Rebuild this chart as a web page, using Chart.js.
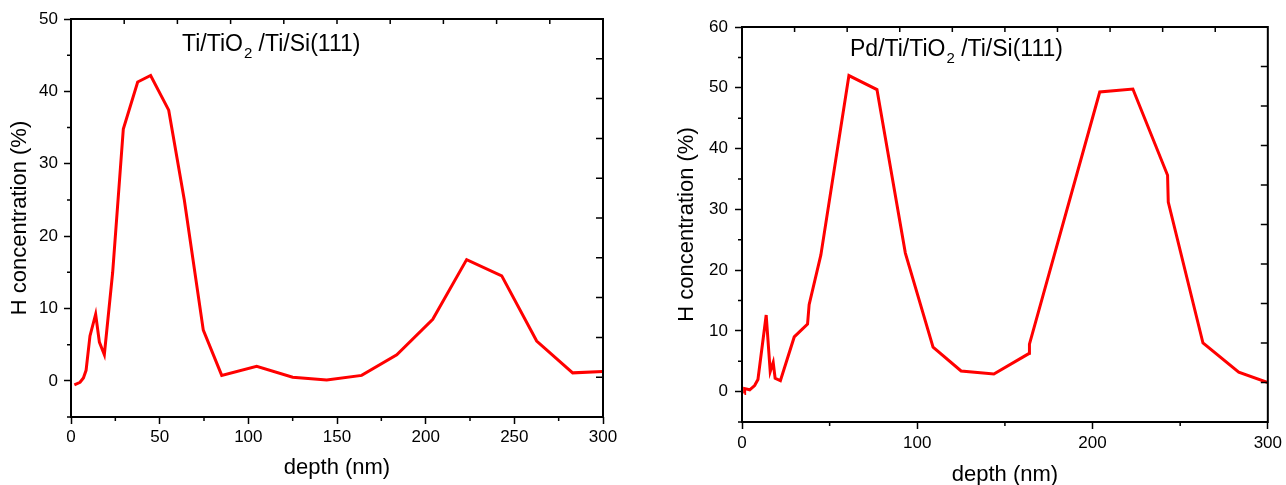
<!DOCTYPE html>
<html>
<head>
<meta charset="utf-8">
<script src="https://cdn.jsdelivr.net/npm/chart.js@4.4.1/dist/chart.umd.min.js"></script>
<style>
  body { margin: 0; background: #fff; }
  #wrap { position: relative; width: 1286px; height: 485px; }
  canvas { position: absolute; top: 0; }
  #chartA { left: 0; }
  #chartB { left: 640px; }
</style>
</head>
<body>
<div id="wrap">
  <canvas id="chartA" width="640" height="485"></canvas>
  <canvas id="chartB" width="646" height="485"></canvas>
</div>
<script>
// Perfil de H - muestra Ti/TiO2/Ti/Si(111)
const depthA = [1.9, 5.1, 7, 8.5, 10.7, 13.9, 16, 18.8, 23.5, 29.5, 37.6, 44.9, 55.1, 63.9, 74.6, 85, 104.7, 125, 144.2, 163.9, 183.7, 204, 223.1, 242.9, 262.6, 282.9, 300];
const hA     = [-0.55, -0.2, 0.4, 1.45, 6.2, 9.2, 5.35, 3.6, 15, 34.8, 41.3, 42.2, 37.4, 25.0, 7.0, 0.75, 2.0, 0.5, 0.13, 0.75, 3.6, 8.5, 16.75, 14.5, 5.5, 1.1, 1.3];

// Perfil de H - muestra Pd/Ti/TiO2/Ti/Si(111)
const depthB = [1.4, 1.5, 4.4, 7.2, 9.1, 13.8, 16.1, 17.8, 18.9, 21.9, 29.8, 37.4, 38.3, 45, 61, 77, 93.2, 109, 125, 143.7, 163.9, 164, 204.1, 223, 242.8, 243.2, 263, 283.4, 300];
const hB     = [-0.3, 0.5, 0.3, 1.0, 2.0, 12.6, 3.3, 4.8, 2.2, 1.8, 9.0, 11.1, 14.3, 22.5, 52.0, 49.7, 22.8, 7.3, 3.4, 2.9, 6.3, 7.8, 49.3, 49.8, 35.6, 31.2, 8.0, 3.2, 1.5];

// ticks
const xTicksA = [0, 50, 100, 150, 200, 250, 300];
const xMinorA = [25, 75, 125, 175, 225, 275];
const yTicksA = [0, 10, 20, 30, 40, 50];
const yMinorA = [-5, 5, 15, 25, 35, 45];
const xTopA   = [30, 60, 90, 120, 150, 180, 210, 240, 270];
const yRightA = [0.5, 6, 11.5, 17, 22.5, 28, 33.5, 39, 44.5];

const xTicksB = [0, 100, 200, 300];
const xMinorB = [50, 150, 250];
const yTicksB = [0, 10, 20, 30, 40, 50, 60];
const yMinorB = [-5, 5, 15, 25, 35, 45, 55];
const xTopB   = [30, 60, 90, 120, 150, 180, 210, 240, 270];
const yRightB = [1.5, 8, 14.5, 21, 27.5, 34, 40.5, 47, 53.5];

const titleA = ['Ti/TiO', '2', ' /Ti/Si(111)'];
const titleB = ['Pd/Ti/TiO', '2', ' /Ti/Si(111)'];

const FONT = "'Liberation Sans', Arial, sans-serif";
Chart.defaults.font.family = FONT;
Chart.defaults.color = '#000';

// marco, ticks menores/espejo y rotulo con subindice
const frameTicks = {
  id: 'frameTicks',
  afterDraw(chart, args, o) {
    const {ctx, chartArea: a, scales: {x, y}} = chart;
    ctx.save();
    ctx.strokeStyle = '#000';
    ctx.lineWidth = 2;
    ctx.strokeRect(a.left, a.top, a.right - a.left, a.bottom - a.top);
    ctx.lineWidth = 1.5;
    ctx.beginPath();
    o.xMinor.forEach(v => { const p = x.getPixelForValue(v); ctx.moveTo(p, a.bottom); ctx.lineTo(p, a.bottom + 4); });
    o.yMinor.forEach(v => { const p = y.getPixelForValue(v); ctx.moveTo(a.left, p); ctx.lineTo(a.left - 4, p); });
    o.xTop.forEach(v => { const p = x.getPixelForValue(v); ctx.moveTo(p, a.top); ctx.lineTo(p, a.top + 5); });
    o.yRight.forEach(v => { const p = y.getPixelForValue(v); ctx.moveTo(a.right, p); ctx.lineTo(a.right - 7, p); });
    ctx.stroke();

    // rotulo
    let tx = a.left + o.titleAt[0];
    const ty = a.top + o.titleAt[1];
    ctx.fillStyle = '#000';
    ctx.textBaseline = 'alphabetic';
    ctx.textAlign = 'left';
    ctx.font = '23px ' + FONT;
    ctx.fillText(o.title[0], tx, ty);
    tx += ctx.measureText(o.title[0]).width;
    ctx.font = '15px ' + FONT;
    ctx.fillText(o.title[1], tx + 1, ty + 7);
    tx += ctx.measureText(o.title[1]).width + 1;
    ctx.font = '23px ' + FONT;
    ctx.fillText(o.title[2], tx, ty);
    ctx.restore();
  }
};

function makeChart(id, depth, h, cfg) {
  const ctx = document.getElementById(id).getContext('2d');
  return new Chart(ctx, {
    type: 'line',
    data: {
      datasets: [{
        data: depth.map((d, i) => ({x: d, y: h[i]})),
        borderColor: '#ff0000',
        borderWidth: 3,
        pointRadius: 0,
        tension: 0,
        fill: false
      }]
    },
    options: {
      responsive: false,
      animation: false,
      layout: { padding: { top: cfg.padTop, right: cfg.padRight, left: 0, bottom: 0 } },
      plugins: {
        legend: { display: false },
        tooltip: { enabled: false },
        frameTicks: {
          xMinor: cfg.xMinor, yMinor: cfg.yMinor, xTop: cfg.xTop, yRight: cfg.yRight,
          title: cfg.title, titleAt: cfg.titleAt
        }
      },
      scales: {
        x: {
          type: 'linear',
          min: 0, max: 300,
          afterBuildTicks: s => { s.ticks = cfg.xTicks.map(v => ({value: v})); },
          afterFit: s => { s.height = cfg.xH; },
          ticks: { font: { size: 17 }, padding: cfg.xTickPad, maxRotation: 0 },
          grid: { drawOnChartArea: false, tickLength: 7, tickWidth: 1.5, color: '#000' },
          border: { display: false },
          title: { display: true, text: 'depth (nm)', font: { size: 22 }, padding: { top: 0, bottom: cfg.xTitlePad } }
        },
        y: {
          min: cfg.yMin, max: cfg.yMax,
          afterBuildTicks: s => { s.ticks = cfg.yTicks.map(v => ({value: v})); },
          afterFit: s => { s.width = cfg.yW; },
          ticks: { font: { size: 17 }, padding: cfg.yTickPad },
          grid: { drawOnChartArea: false, tickLength: 7, tickWidth: 1.5, color: '#000' },
          border: { display: false },
          title: { display: true, text: 'H concentration (%)', font: { size: 22 }, padding: { top: cfg.yTitlePad, bottom: 0 } }
        }
      }
    },
    plugins: [frameTicks]
  });
}

makeChart('chartA', depthA, hA, {
  yMin: -5, yMax: 50,
  xTicks: xTicksA, xMinor: xMinorA, yTicks: yTicksA, yMinor: yMinorA, xTop: xTopA, yRight: yRightA,
  padTop: 19, padRight: 37, xH: 68, yW: 71,
  yTickPad: 6, xTickPad: 3, xTitlePad: 4, yTitlePad: 7,
  title: titleA, titleAt: [111, 32]
});

makeChart('chartB', depthB, hB, {
  yMin: -5, yMax: 60,
  xTicks: xTicksB, xMinor: xMinorB, yTicks: yTicksB, yMinor: yMinorB, xTop: xTopB, yRight: yRightB,
  padTop: 27, padRight: 14, xH: 63, yW: 102,
  yTickPad: 7, xTickPad: 4, xTitlePad: -3, yTitlePad: 34,
  title: titleB, titleAt: [108, 29]
});
</script>
</body>
</html>
